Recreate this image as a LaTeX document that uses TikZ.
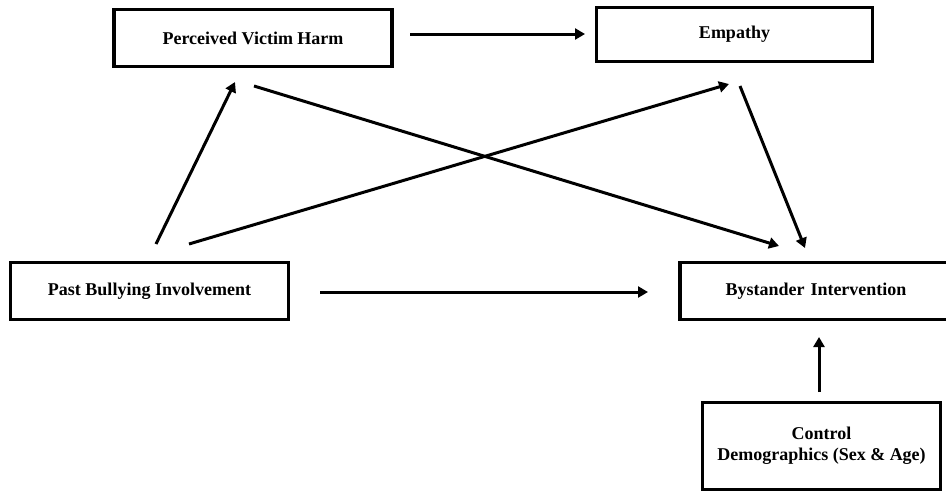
\documentclass[tikz,border=0pt]{standalone}
\usepackage{fontspec}
\setmainfont{Liberation Serif}
\usetikzlibrary{arrows.meta}
\begin{document}
\begin{tikzpicture}[x=1pt,y=-1pt,
  box/.style={draw=black,line width=3.2pt,fill=white,inner sep=0pt,align=center,
    font=\fontsize{18}{21}\selectfont\bfseries},
  conn/.style={line width=3pt,-{Triangle[length=10pt,width=11pt]}}]
\useasboundingbox (0,0) rectangle (946,493);
\clip (0,0) rectangle (946,493);
\node[box,minimum width=278pt,minimum height=57pt] (pvh) at (253,38) {Perceived Victim Harm};
\node[box,minimum width=276pt,minimum height=54pt] (emp) at (734.5,34.5) {Empathy};
\node[box,minimum width=278pt,minimum height=57pt] (pbi) at (149.5,291) {Past Bullying Involvement};
\node[box,minimum width=272pt,minimum height=57pt,text width=272pt] (bi) at (816,291) {Bystander Intervention};
\node[box,minimum width=238pt,minimum height=87pt] (ctl) at (821.5,446) {Control\\Demographics (Sex \& Age)};
% free ends
\coordinate (a1) at (410,34);  \coordinate (a2) at (585,34);
\coordinate (b1) at (156,244); \coordinate (b2) at (235,82);
\coordinate (c1) at (189,244); \coordinate (c2) at (729,84);
\coordinate (d1) at (254,86);  \coordinate (d2) at (779,246);
\coordinate (e1) at (740,86);  \coordinate (e2) at (805,248);
\coordinate (f1) at (320,292); \coordinate (f2) at (648,292);
\coordinate (g1) at (819,392); \coordinate (g2) at (819,337);
\draw[conn] (a1) -- (a2);
\draw[conn] (b1) -- (b2);
\draw[conn] (c1) -- (c2);
\draw[conn] (d1) -- (d2);
\draw[conn] (e1) -- (e2);
\draw[conn] (f1) -- (f2);
\draw[conn] (g1) -- (g2);
\end{tikzpicture}
\end{document}
